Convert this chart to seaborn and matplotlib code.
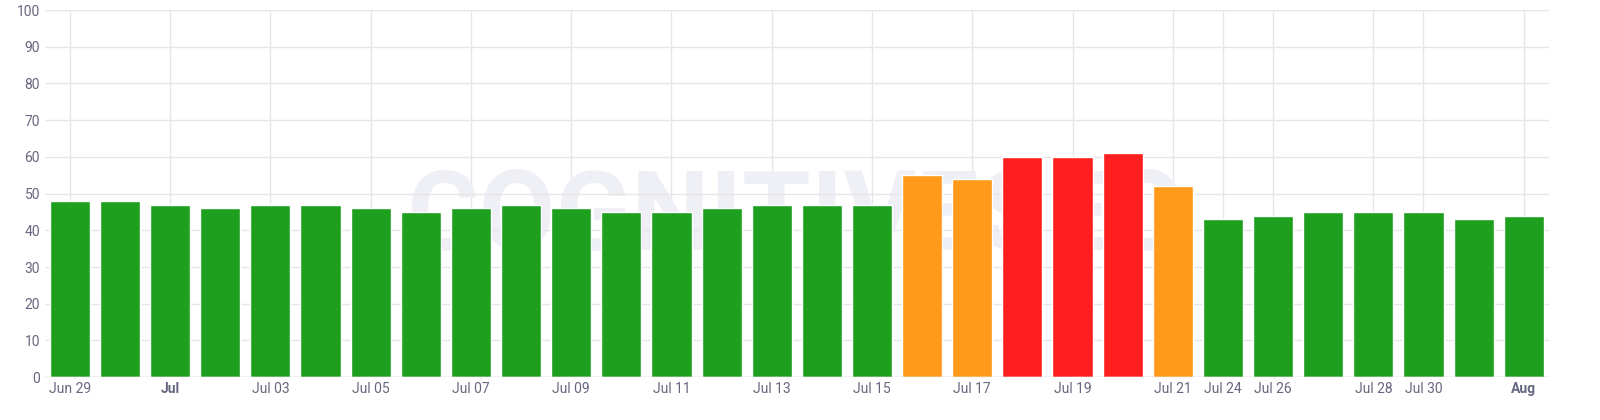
import matplotlib
matplotlib.use("Agg")
import matplotlib.pyplot as plt
import seaborn as sns
import pandas as pd

values = [48,48,47,46,47,47,46,45,46,47,46,45,45,46,47,47,47,55,54,60,60,61,52,43,44,45,45,45,43,44]
labels = {0:"Jun 29",2:"Jul",4:"Jul 03",6:"Jul 05",8:"Jul 07",10:"Jul 09",12:"Jul 11",14:"Jul 13",
          16:"Jul 15",18:"Jul 17",20:"Jul 19",22:"Jul 21",23:"Jul 24",24:"Jul 26",26:"Jul 28",27:"Jul 30",29:"Aug"}
bold = {"Jul","Aug"}

def col(v):
    if v >= 58: return "#ff1f1f"
    if v >= 50: return "#ff9a1a"
    return "#1ea01e"

df = pd.DataFrame({"x": range(len(values)), "y": values})
sns.set_style("white")
plt.rcParams['font.family'] = ['Roboto', 'DejaVu Sans']
fig = plt.figure(figsize=(16, 4.2), dpi=100)
ax = fig.add_axes([0.028, 0.102, 0.94, 0.874])
ticks = sorted(labels)
for t in ticks:
    ax.axvline(t, color="#e6e6e6", lw=1, zorder=0)
ax.set_yticks(range(0, 101, 10))
ax.yaxis.grid(True, color="#e6e6e6", lw=1)
ax.set_axisbelow(True)
ax.text(0.5, 0.43, "COGNITIVESEO", transform=ax.transAxes, fontsize=80, color="#eef0f6",
        ha="center", va="center", zorder=0.5, fontweight="bold")
sns.barplot(data=df, x="x", y="y", hue="x", palette=[col(v) for v in values], legend=False,
            width=0.8, ax=ax, saturation=1, zorder=2)
ax.set_xticks(ticks)
ax.set_xticklabels([labels[t] for t in ticks])
for tl in ax.get_xticklabels():
    if tl.get_text() in bold: tl.set_fontweight("bold")
ax.tick_params(axis="both", colors="#666680", labelsize=10, length=0)
ax.set_ylim(0, 100)
ax.set_xlim(-0.5, 29.5)
ax.set_xlabel(""); ax.set_ylabel("")
for s in ax.spines.values(): s.set_visible(False)
ax.axhline(0, color="#cccccc", lw=1)
fig.savefig("out.png")
